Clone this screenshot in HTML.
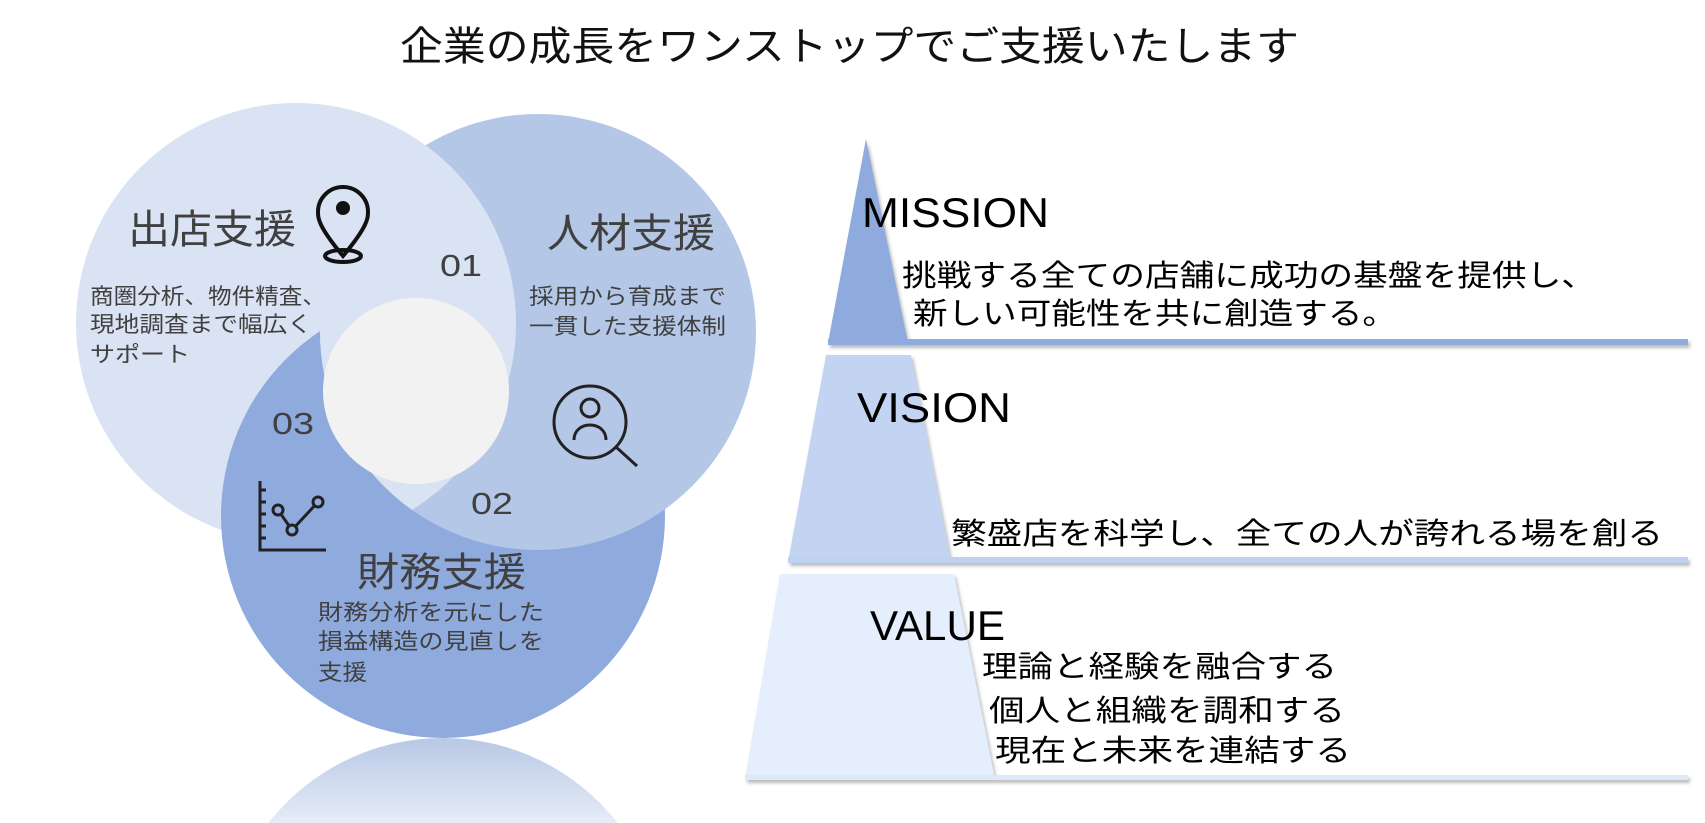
<!DOCTYPE html>
<html><head><meta charset="utf-8"><style>
html,body{margin:0;padding:0;background:#fff;width:1705px;height:823px;overflow:hidden;}
svg{display:block;}
text{font-family:"Liberation Sans","Noto Sans CJK JP",sans-serif;}
</style></head><body>
<svg width="1705" height="823" viewBox="0 0 1705 823" xmlns="http://www.w3.org/2000/svg">
<defs>
<clipPath id="c2"><circle cx="538" cy="332" r="218"/></clipPath>
<clipPath id="c3"><circle cx="443" cy="516" r="222"/></clipPath>
<linearGradient id="refl" x1="0" y1="0" x2="0" y2="1">
<stop offset="0" stop-color="#b8c8e6"/><stop offset="1" stop-color="#e6ecf7"/>
</linearGradient>
<filter id="sh" x="-5%" y="-5%" width="110%" height="130%"><feDropShadow dx="2" dy="3" stdDeviation="1.5" flood-color="#777" flood-opacity="0.5"/></filter>
</defs>
<text x="400" y="60" font-size="40" textLength="899" lengthAdjust="spacingAndGlyphs" fill="#111">企業の成長をワンストップでご支援いたします</text>

<path d="M268.3 823 A222 222 0 0 1 617.7 823 Z" fill="url(#refl)"/>

<circle cx="296" cy="323" r="220" fill="#dae3f3"/>
<circle cx="538" cy="332" r="218" fill="#b4c7e7"/>
<circle cx="443" cy="516" r="222" fill="#8faadc"/>
<circle cx="538" cy="332" r="218" fill="#b4c7e7" clip-path="url(#c3)"/>
<circle cx="296" cy="323" r="220" fill="#dae3f3" clip-path="url(#c2)"/>
<circle cx="416" cy="391" r="93" fill="#f2f2f2"/>

<g fill="#404040">
<text x="128" y="243" font-size="40" textLength="168" lengthAdjust="spacingAndGlyphs">出店支援</text>
<text x="547" y="247" font-size="40" textLength="168" lengthAdjust="spacingAndGlyphs">人材支援</text>
<text x="357" y="586" font-size="40" textLength="169" lengthAdjust="spacingAndGlyphs">財務支援</text>
<text x="440" y="276" font-size="31" textLength="42" lengthAdjust="spacingAndGlyphs">01</text>
<text x="272" y="434" font-size="31" textLength="42" lengthAdjust="spacingAndGlyphs">03</text>
<text x="471" y="514" font-size="31" textLength="42" lengthAdjust="spacingAndGlyphs">02</text>
<g font-size="22">
<text x="90" y="304" textLength="236" lengthAdjust="spacingAndGlyphs">商圏分析、物件精査、</text>
<text x="90" y="332" textLength="222" lengthAdjust="spacingAndGlyphs">現地調査まで幅広く</text>
<text x="90" y="362" textLength="100" lengthAdjust="spacingAndGlyphs">サポート</text>
<text x="529" y="304" textLength="197" lengthAdjust="spacingAndGlyphs">採用から育成まで</text>
<text x="529" y="334" textLength="197" lengthAdjust="spacingAndGlyphs">一貫した支援体制</text>
<text x="318" y="620" textLength="226" lengthAdjust="spacingAndGlyphs">財務分析を元にした</text>
<text x="318" y="649" textLength="226" lengthAdjust="spacingAndGlyphs">損益構造の見直しを</text>
<text x="318" y="680" textLength="49" lengthAdjust="spacingAndGlyphs">支援</text>
</g>
</g>
<g stroke="#111" stroke-width="4" fill="none">
<path d="M343 256 C318 226 318 218 318 212 A25 25 0 1 1 368 212 C368 218 368 226 343 256 Z"/>
<ellipse cx="343" cy="256" rx="18" ry="6"/>
</g>
<circle cx="343" cy="208" r="7" fill="#111"/>
<g stroke="#222" stroke-width="3" fill="none">
<circle cx="590" cy="422" r="36"/>
<circle cx="590" cy="408" r="9"/>
<path d="M574 440 C574 420 606 420 606 440"/>
<line x1="616" y1="447" x2="637" y2="466"/>
</g>
<g stroke="#222" stroke-width="3" fill="none">
<path d="M260 481 V550 H326"/>
<path d="M266 490 h-6 M266 502 h-6 M266 514 h-6 M266 526 h-6 M266 538 h-6"/>
<polyline points="278,510 292,530 318,502"/>
<circle cx="278" cy="510" r="5" fill="#8faadc"/>
<circle cx="292" cy="530" r="5" fill="#8faadc"/>
<circle cx="318" cy="502" r="5" fill="#8faadc"/>
</g>

<g filter="url(#sh)">
<polygon points="866,139 828,343 908,343" fill="#8faadc"/>
<rect x="828" y="339" width="860" height="6" fill="#8faadc"/>
<polygon points="826,355 911,355 951,562 788,562" fill="#c3d4f2"/>
<rect x="788" y="557" width="900" height="6" fill="#bfd1f0"/>
<polygon points="780,574 954,574 995,779 745,779" fill="#e5eefc"/>
<rect x="745" y="775" width="943" height="5" fill="#dde8f8"/>
</g>
<g fill="#000">
<text x="862" y="227" font-size="42" textLength="187" lengthAdjust="spacingAndGlyphs">MISSION</text>
<text x="857" y="422" font-size="42" textLength="154" lengthAdjust="spacingAndGlyphs">VISION</text>
<text x="870" y="640" font-size="42" textLength="135" lengthAdjust="spacingAndGlyphs">VALUE</text>
<g font-size="30">
<text x="902" y="286" textLength="694" lengthAdjust="spacingAndGlyphs">挑戦する全ての店舗に成功の基盤を提供し、</text>
<text x="913" y="324" textLength="484" lengthAdjust="spacingAndGlyphs">新しい可能性を共に創造する。</text>
<text x="951" y="544" textLength="712" lengthAdjust="spacingAndGlyphs">繁盛店を科学し、全ての人が誇れる場を創る</text>
<text x="982" y="677" textLength="355" lengthAdjust="spacingAndGlyphs">理論と経験を融合する</text>
<text x="989" y="721" textLength="356" lengthAdjust="spacingAndGlyphs">個人と組織を調和する</text>
<text x="995" y="761" textLength="356" lengthAdjust="spacingAndGlyphs">現在と未来を連結する</text>
</g>
</g>
</svg>
</body></html>
